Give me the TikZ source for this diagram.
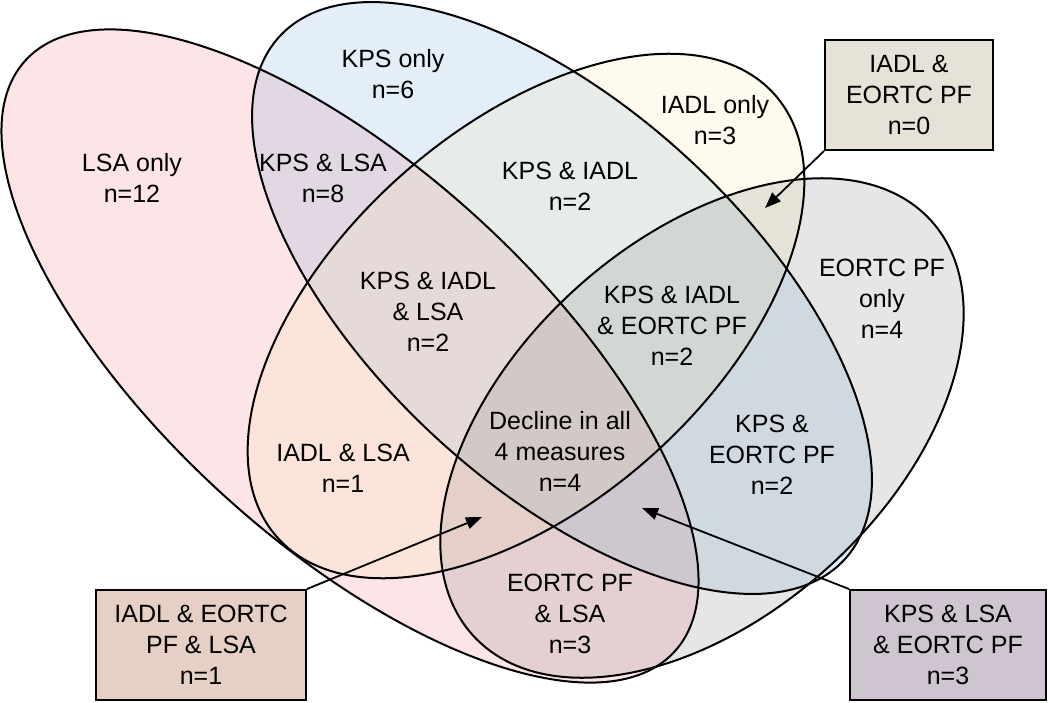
\documentclass[tikz,border=0pt]{standalone}
\usepackage{fontspec}
\setmainfont{Liberation Sans}
\usetikzlibrary{arrows.meta}
\definecolor{cL}{RGB}{245,120,130}
\definecolor{cK}{RGB}{120,170,220}
\definecolor{cI}{RGB}{250,230,170}
\definecolor{cE}{RGB}{130,130,130}
\definecolor{bxIE}{RGB}{230,226,216}
\definecolor{bxIEL}{RGB}{230,207,196}
\definecolor{bxKLE}{RGB}{207,197,208}
\begin{document}
\begin{tikzpicture}[x=1pt,y=-1pt,
  vfill/.style={fill=#1,fill opacity=0.2,draw=none},
  vline/.style={draw=black,line width=2pt,fill=none},
  lbl/.style={align=center,font=\fontsize{25}{31}\selectfont,inner sep=0pt},
  box/.style={draw=black,line width=2pt,align=center,font=\fontsize{25}{31}\selectfont,inner sep=0pt},
  arr/.style={-{Triangle[length=16pt,width=12pt]},line width=1.8pt,draw=black}]
\useasboundingbox (0,0) rectangle (1050,702);
% fills
\path[vfill=cL,rotate around={-42.3:(350,356)}] (350,356) ellipse [x radius=439,y radius=188];
\path[vfill=cK,rotate around={-42.85:(562,298)}] (562,298) ellipse [x radius=385,y radius=188];
\path[vfill=cI,rotate around={41.7:(526,316)}] (526,316) ellipse [x radius=333,y radius=188];
\path[vfill=cE,rotate around={42.1:(702,428)}] (702,428) ellipse [x radius=309,y radius=188];
% outlines
\path[vline,rotate around={-42.3:(350,356)}] (350,356) ellipse [x radius=439,y radius=188];
\path[vline,rotate around={-42.85:(562,298)}] (562,298) ellipse [x radius=385,y radius=188];
\path[vline,rotate around={41.7:(526,316)}] (526,316) ellipse [x radius=333,y radius=188];
\path[vline,rotate around={42.1:(702,428)}] (702,428) ellipse [x radius=309,y radius=188];
% region labels
\node[lbl] (tL) at (132,178) {LSA only\\n=12};
\node[lbl] (tK) at (393,74) {KPS only\\n=6};
\node[lbl] (tI) at (715,120) {IADL only\\n=3};
\node[lbl] (tE) at (882,299) {EORTC PF\\only\\n=4};
\node[lbl] (tKL) at (323,178) {KPS \& LSA\\n=8};
\node[lbl] (tKI) at (570,186) {KPS \& IADL\\n=2};
\node[lbl] (tKIL) at (428,312) {KPS \& IADL\\\& LSA\\n=2};
\node[lbl] (tKIE) at (672,326) {KPS \& IADL\\\& EORTC PF\\n=2};
\node[lbl] (tAll) at (560,451) {Decline in all\\4 measures\\n=4};
\node[lbl] (tIL) at (343,468) {IADL \& LSA\\n=1};
\node[lbl] (tKE) at (772,455) {KPS \&\\EORTC PF\\n=2};
\node[lbl] (tEL) at (570,614) {EORTC PF\\\& LSA\\n=3};
% callout boxes
\node[box,fill=bxIE,minimum width=168pt,minimum height=110pt] (bIE) at (909,95) {IADL \&\\EORTC PF\\n=0};
\node[box,fill=bxIEL,minimum width=210pt,minimum height=110pt] (bIEL) at (201,645) {IADL \& EORTC\\PF \& LSA\\n=1};
\node[box,fill=bxKLE,minimum width=196pt,minimum height=110pt] (bKLE) at (948,645) {KPS \& LSA\\\& EORTC PF\\n=3};
% arrow targets
\coordinate (pIE) at (765,208);
\coordinate (pIEL) at (482,517);
\coordinate (pKLE) at (642,508);
\draw[arr] (bIE.south west) -- (pIE);
\draw[arr] (bIEL.north east) -- (pIEL);
\draw[arr] (bKLE.north west) -- (pKLE);
\end{tikzpicture}
\end{document}
